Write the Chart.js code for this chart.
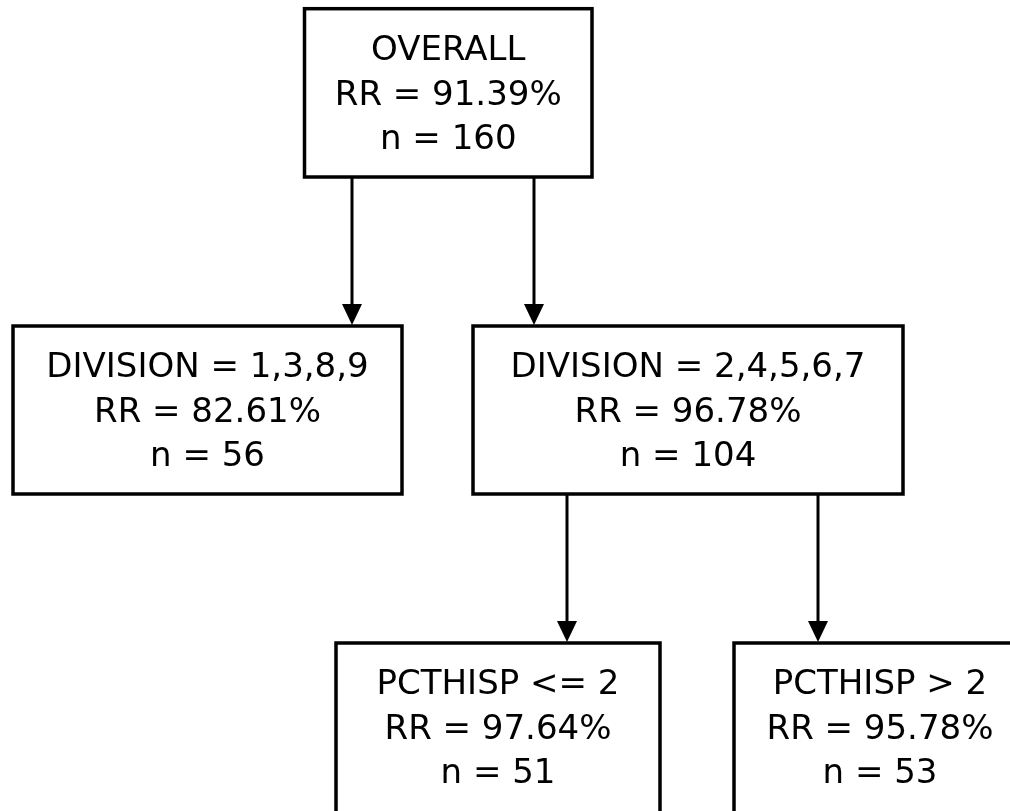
<!DOCTYPE html>
<html>
<head>
<meta charset="utf-8">
<script src="https://cdn.jsdelivr.net/npm/chart.js@4"></script>
<style>
  html, body { margin: 0; padding: 0; background: #fff; }
  #wrap { width: 1010px; height: 811px; }
</style>
</head>
<body>
<div id="wrap"><canvas id="chart" width="1010" height="811"></canvas></div>
<script>
// node data
const nodeLabels = ['OVERALL', 'DIVISION = 1,3,8,9', 'DIVISION = 2,4,5,6,7', 'PCTHISP <= 2', 'PCTHISP > 2'];
const nodeRR = [91.39, 82.61, 96.78, 97.64, 95.78];
const nodeN = [160, 56, 104, 51, 53];
const nodeParent = [null, 0, 0, 2, 2];

// layout (axis units, the axes span the canvas)
const boxLeft = [304.5, 13, 473, 336, 734];
const boxRight = [592, 402, 903, 660, 1026];
const boxTop = [8.7, 326, 326, 643, 643];
const boxBottom = [177, 494, 494, 813, 813];
const arrowX = [null, 352, 534, 567, 818];

const treePlugin = {
  id: 'tree',
  afterDatasetsDraw(chart) {
    const ctx = chart.ctx;
    const xs = chart.scales.x, ys = chart.scales.y;
    ctx.save();
    ctx.strokeStyle = '#000';
    ctx.fillStyle = '#000';
    ctx.lineWidth = 3.5;

    // arrows
    nodeParent.forEach((p, i) => {
      if (p === null) return;
      const x = xs.getPixelForValue(arrowX[i]);
      const y0 = ys.getPixelForValue(boxBottom[p]);
      const y1 = ys.getPixelForValue(boxTop[i]);
      ctx.lineWidth = 3;
      ctx.beginPath();
      ctx.moveTo(x, y0);
      ctx.lineTo(x, y1 - 18);
      ctx.stroke();
      ctx.beginPath();
      ctx.moveTo(x - 10, y1 - 22);
      ctx.lineTo(x + 10, y1 - 22);
      ctx.lineTo(x, y1 - 1);
      ctx.closePath();
      ctx.fill();
    });

    // boxes + text
    ctx.lineWidth = 3.5;
    ctx.font = '34px "DejaVu Sans"';
    ctx.textAlign = 'center';
    ctx.textBaseline = 'alphabetic';
    nodeLabels.forEach((lab, i) => {
      const l = xs.getPixelForValue(boxLeft[i]);
      const r = xs.getPixelForValue(boxRight[i]);
      const t = ys.getPixelForValue(boxTop[i]);
      const b = ys.getPixelForValue(boxBottom[i]);
      ctx.strokeRect(l, t, r - l, b - t);
      const cx = (l + r) / 2;
      ctx.fillText(lab, cx, t + 51);
      ctx.fillText('RR = ' + nodeRR[i].toFixed(2) + '%', cx, t + 96);
      ctx.fillText('n = ' + nodeN[i], cx, t + 140);
    });
    ctx.restore();
  }
};

new Chart(document.getElementById('chart'), {
  type: 'scatter',
  data: {
    datasets: [{
      data: nodeLabels.map((_, i) => ({ x: (boxLeft[i] + boxRight[i]) / 2, y: (boxTop[i] + boxBottom[i]) / 2 })),
      pointRadius: 0
    }]
  },
  options: {
    responsive: false,
    animation: false,
    layout: { padding: 0 },
    plugins: { legend: { display: false }, tooltip: { enabled: false } },
    scales: {
      x: { display: false, min: 0, max: 1010 },
      y: { display: false, min: 0, max: 811, reverse: true }
    }
  },
  plugins: [treePlugin]
});
</script>
</body>
</html>
